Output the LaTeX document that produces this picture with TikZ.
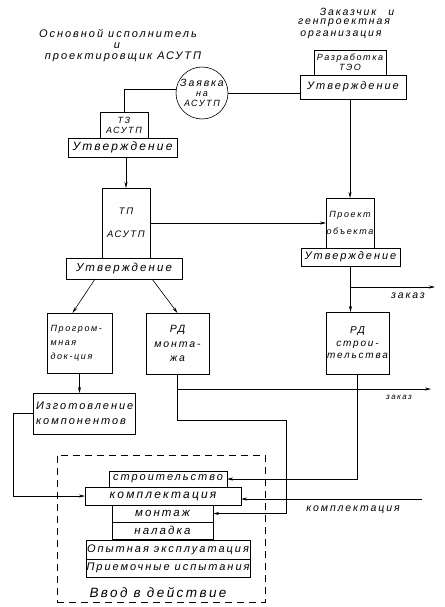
\documentclass[tikz,border=0pt]{standalone}
\usepackage{fontspec}
\setmainfont{Liberation Sans}
\newfontfamily\hw[LetterSpace=18]{Liberation Sans}
\newcommand\hwsize[2]{\hw\itshape\fontsize{#1}{#2}\selectfont}
\usetikzlibrary{arrows.meta,calc}
\begin{document}
\begin{tikzpicture}[x=1pt,y=-1pt,line width=0.6pt,
 box/.style={draw, inner sep=0pt, outer sep=0pt},
 fs/.style 2 args={font=\hwsize{#1}{#2}},
 lb/.style={inner sep=0pt},
 arr/.style={-{Stealth[length=6pt,width=3pt]}}]
\useasboundingbox (0,0) rectangle (444,607);

% headers
\node[lb, fs={11}{12}] (h1) at (118,33) {Основной исполнитель};
\node[lb, fs={11}{12}] (h2) at (117,46) {и};
\node[lb, fs={11}{12}] (h3) at (123,57) {проектировщик АСУТП};
\node[lb, fs={10.5}{12}] (h4) at (357,12) {Заказчик\hspace{12pt}и};
\node[lb, fs={10.5}{12}] (h5) at (344,23) {генпроектная};
\node[lb, fs={10.5}{12}] (h6) at (341,35) {организация};

% boxes
\node[draw, circle, inner sep=0pt, minimum size=52, align=center, fs={10.5}{10}] (zav) at (202,93)
  {Заявка\\{\hwsize{9}{10}на}\\{\hwsize{9}{10}АСУТП}};
\node[box, minimum width=72, minimum height=25, align=center, fs={9}{10}] (teo) at (350,62.5) {Разработка\\ТЭО};
\node[box, minimum width=106, minimum height=24, fs={11}{12}] (teou) at (353,87) {Утверждение};
\node[box, minimum width=48, minimum height=26, align=center, fs={9}{10}] (tz) at (124,125) {ТЗ\\АСУТП};
\node[box, minimum width=109, minimum height=19, fs={12}{12}] (tzu) at (122.5,147.5) {Утверждение};
\node[box, minimum width=48, minimum height=70, align=center, fs={9.5}{23}] (tp) at (126,223) {ТП\\АСУТП};
\node[box, minimum width=116, minimum height=21, fs={11.5}{12}] (tpu) at (124,268.5) {Утверждение};
\node[box, minimum width=48, minimum height=50, align=center, fs={9}{17}] (pr) at (350,223) {Проект\\объекта};
\node[box, minimum width=99, minimum height=18, fs={11}{12}] (pru) at (350.5,257) {Утверждение};
\node[box, minimum width=65, minimum height=60, text width=58, align=left, fs={9}{14}] (prog) at (79.5,343) {Прогром-\\мная\\док-ция};
\node[box, minimum width=63, minimum height=61, align=center, fs={10.5}{14.5}] (rdm) at (177.5,343.5) {РД\\монта-\\жа};
\node[box, minimum width=63, minimum height=62, align=center, fs={10}{12.5}] (rds) at (357.5,343) {РД\\строи-\\тельства};
\node[box, minimum width=102, minimum height=41, text width=96, align=left, fs={11}{15}] (izg) at (84,413.5) {Изготовление\\компонентов};

\node[draw, dashed, dash pattern=on 7pt off 5pt, inner sep=0pt, minimum width=208, minimum height=147] (vv) at (161,528.5) {};
\node[box, minimum width=118, minimum height=16, fs={11}{12}] (str) at (168,479) {строительство};
\node[box, minimum width=156, minimum height=18, fs={12}{12}] (kom) at (163,496) {комплектация};
\node[box, minimum width=101, minimum height=17, fs={11.5}{12}] (mon) at (162.5,513.5) {монтаж};
\node[box, minimum width=101, minimum height=17, fs={11.5}{12}] (nal) at (162.5,530.5) {наладка};
\node[box, minimum width=164, minimum height=19, fs={11}{12}] (op) at (168,549.5) {Опытная эксплуатация};
\node[box, minimum width=164, minimum height=18, fs={11}{12}] (pri) at (168,568) {Приемочные испытания};
\node[lb, fs={13.5}{14}] (vvt) at (158,593) {Ввод в действие};

% free ends
\coordinate (z1) at (435,287);
\coordinate (z2) at (431,389);
\coordinate (k1) at (422,499);
\coordinate (c3) at (286,420);
\node[lb, fs={10.5}{12}] (zk1) at (408,296) {заказ};
\node[lb, fs={8}{10}] (zk2) at (399,397) {заказ};
\node[lb, fs={10.5}{12}] (kl) at (353,509.5) {комплектация};

% connectors
\draw (zav.173) -| (tz.north);
\draw (zav.east) -- (zav.east -| teou.west);
\draw[arr] (tp.north |- tzu.south) -- (tp.north);
\draw[arr] (pr.north |- teou.south) -- (pr.north);
\draw[arr] (tp.east) -- (pr.west);
\draw[arr] ($(tpu.south)+(-29,0)$) -- ($(prog.north)+(-7,0)$);
\draw[arr] ($(tpu.south)+(28,0)$) -- (rdm.north);
\draw[arr] (pru.south) -- (pru.south |- rds.north);
\draw[arr] (pru.south |- z1) -- (z1);
\draw[arr] (prog.south) -- (prog.south |- izg.north);
\draw[arr] (izg.west) -- ++(-20,0) |- (kom.west);
\draw[arr] (rdm.south) |- (c3) |- (mon.east);
\draw[arr] (rdm.south |- z2) -- (z2);
\draw[arr] (rds.south) |- (str.east);
\draw[arr] (k1) -- (k1 -| kom.east);
\end{tikzpicture}
\end{document}
